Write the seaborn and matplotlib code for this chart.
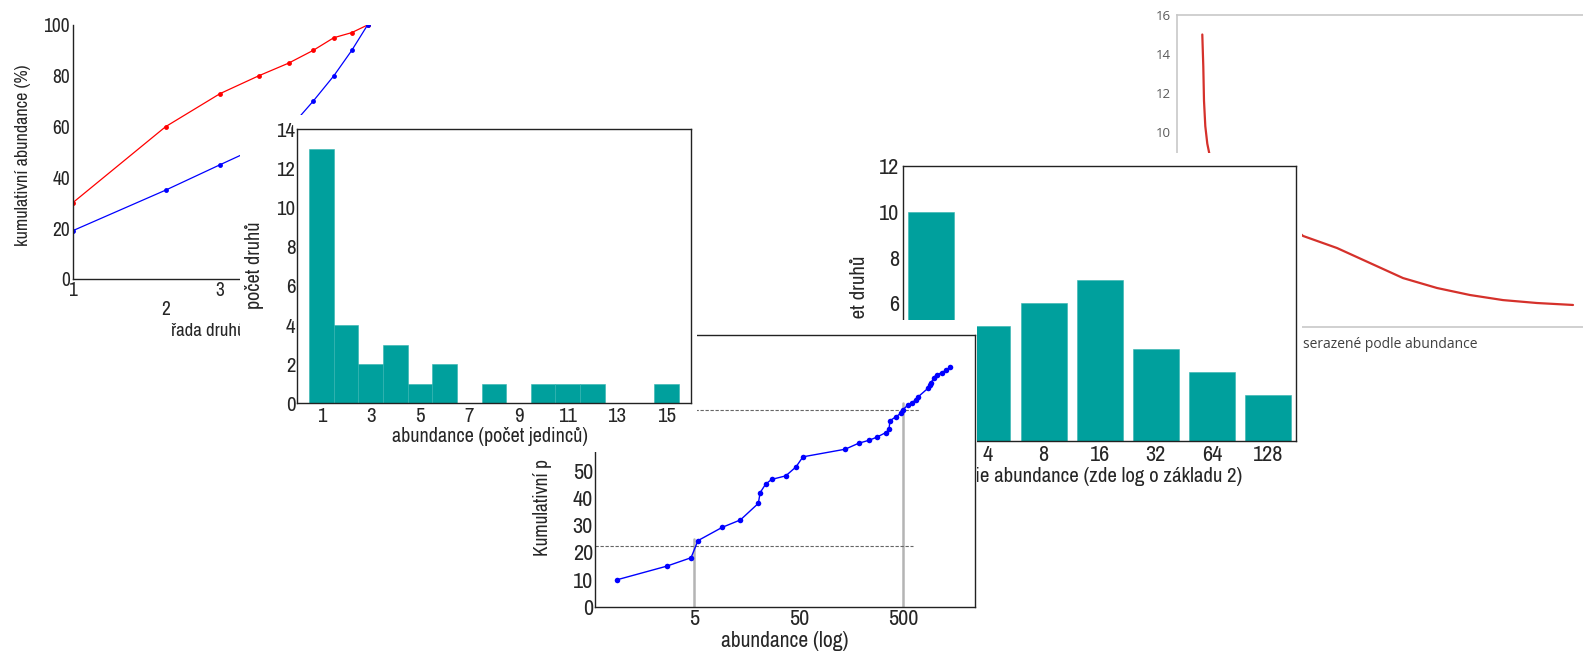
import numpy as np
import pandas as pd
import matplotlib
matplotlib.use('Agg')
import matplotlib.pyplot as plt
import seaborn as sns
from matplotlib.ticker import FixedLocator, NullFormatter, NullLocator
from matplotlib.transforms import blended_transform_factory

# panel 1: cumulative abundance vs species rank (log x)
rank_species = [1, 2, 3, 4, 5, 6, 7, 8, 9]
cum_red = [30, 60, 73, 80, 85, 90, 95, 97, 100]
cum_blue = [19, 35, 45, 52, 59, 70, 80, 90, 100]

# panel 2: histogram of abundances
abund_classes = list(range(1, 16))
hist_counts = [13, 4, 2, 3, 1, 2, 0, 1, 0, 1, 1, 1, 0, 0, 1]

# panel 3: cumulative curve vs abundance (log x)
log_abund = [0.91, 2.72, 4.65, 5.42, 9.27, 13.8, 20.5, 21.3, 24.1, 27.5, 37.5, 47.0,
             54.8, 139, 187, 236, 278, 340, 365, 373, 429, 472, 493, 558, 601, 657,
             696, 861, 901, 927, 977, 1044, 1165, 1281, 1409]
log_cum = [9.9, 14.9, 18.0, 24.3, 29.2, 31.9, 38.0, 41.9, 45.1, 46.8, 48.1, 51.4,
           55.1, 57.9, 60.1, 61.2, 62.3, 64.0, 65.2, 68.4, 69.9, 71.1, 72.3, 74.3,
           75.0, 76.0, 77.2, 80.3, 81.5, 82.4, 84.2, 85.3, 86.0, 87.0, 88.1]
log_ticks = [5, 50, 500]
quart_x = [5, 500]
quart_top = [25, 75]
quart_y = [22.3, 72.3]
quart_right = [620, 710]

# panel 4: octave classes (log2)
octave_labels = ['2', '4', '8', '16', '32', '64', '128']
octave_counts = [10, 5, 6, 7, 4, 3, 2]

# panel 5: rank-abundance curve (excel style)
rank_pos = [2.53, 2.63, 2.70, 2.83, 3.03, 3.23, 12.6, 16.0, 19.3, 22.6, 26.0, 29.3, 32.6, 36.0, 39.6]
rank_abund = [15.0, 13.35, 11.6, 10.3, 9.4, 8.9, 4.67, 4.05, 3.28, 2.51, 2.0, 1.64, 1.38, 1.23, 1.13]

TEAL = '#00a09d'
EXCEL_FONT = ['Open Sans', 'DejaVu Sans']
W, H = 1583, 655

sns.set_style('white')
plt.rcParams['font.family'] = ['Archivo Narrow', 'Liberation Sans', 'DejaVu Sans']
plt.rcParams['axes.linewidth'] = 1.0

fig = plt.figure(figsize=(W / 100, H / 100), dpi=100)
fig.patch.set_facecolor('white')


def rect(l, t, r, b):
    return [l / W, 1 - b / H, (r - l) / W, (b - t) / H]


def fx(x):
    return x / W


def fy(y):
    return 1 - y / H


def backdrop(l, t, r, b):
    # white "screenshot" area that hides whatever lies below it
    a = fig.add_axes(rect(l, t, r, b))
    a.set_xticks([])
    a.set_yticks([])
    for s in a.spines.values():
        s.set_visible(False)
    a.set_facecolor('white')
    return a


def box(ax):
    for s in ax.spines.values():
        s.set_visible(True)
        s.set_color('#222222')
        s.set_linewidth(1.0)


# ---- panel 1
ax1 = fig.add_axes(rect(72.7, 25, 381.7, 279))
sns.lineplot(x=rank_species, y=cum_red, color='red', lw=0.9, marker='o',
             markersize=3.5, markeredgewidth=0, ax=ax1)
sns.lineplot(x=rank_species, y=cum_blue, color='blue', lw=0.9, marker='o',
             markersize=3.5, markeredgewidth=0, ax=ax1)
ax1.set_xscale('log')
ax1.set_xlim(1, 10)
ax1.set_ylim(0, 100)
ax1.set_xticks([1, 3])
ax1.set_xticklabels(['1', '3'])
ax1.xaxis.set_minor_locator(FixedLocator([1.25, 1.5, 1.75, 2, 2.25, 2.5, 2.75, 3.25, 3.5]))
ax1.xaxis.set_minor_formatter(NullFormatter())
ax1.set_yticks(range(0, 101, 20))
ax1.tick_params(axis='x', which='both', direction='in', length=3.5, width=0.8, pad=1.5, labelsize=14)
ax1.tick_params(axis='y', length=0, pad=2, labelsize=14)
for side in ['top', 'right']:
    ax1.spines[side].set_visible(False)
for side in ['left', 'bottom']:
    ax1.spines[side].set_color('#222222')
ax1.set_xlabel('')
ax1.set_ylabel('')
ax1.text(2, fy(300), '2', fontsize=14, ha='center', va='top',
         transform=blended_transform_factory(ax1.transData, fig.transFigure))
ax1.text(fx(171), fy(331), 'řada druhů', fontsize=13.5, ha='left', va='center', transform=fig.transFigure)
ax1.text(fx(23), fy(246), 'kumulativní abundance (%)', fontsize=13, rotation=90,
         ha='center', va='bottom', transform=fig.transFigure)

# ---- panel 5
backdrop(1120, 0, 1583, 360)
ax5 = fig.add_axes(rect(1177, 15, 1600, 327))
sns.lineplot(x=rank_pos, y=rank_abund, color='#d5312b', lw=1.6, ax=ax5)
ax5.set_xlim(0, 42.3)
ax5.set_ylim(0, 16)
ax5.set_xticks([])
ax5.set_yticks(range(0, 17, 2))
ax5.tick_params(axis='y', length=0, pad=4.5, labelsize=9.5, labelcolor='#595959')
for lab in ax5.get_yticklabels():
    lab.set_family(EXCEL_FONT)
ax5.spines['right'].set_visible(False)
for side in ['left', 'top', 'bottom']:
    ax5.spines[side].set_color('#c8c8c8')
    ax5.spines[side].set_linewidth(1.2)
ax5.set_xlabel('')
ax5.set_ylabel('')
ax5.text(fx(1303), fy(344), 'serazené podle abundance', fontsize=10, color='#404040',
         family=EXCEL_FONT, ha='left', va='center', transform=fig.transFigure)

# ---- panel 4
backdrop(840, 153, 1302, 490)
ax4 = fig.add_axes(rect(903.3, 166, 1296, 440.7))
sns.barplot(x=octave_labels, y=octave_counts, order=octave_labels, color=TEAL,
            saturation=1, width=0.82, edgecolor='#33b3b0', linewidth=0.4, ax=ax4)
ax4.set_ylim(0, 12)
ax4.set_yticks(range(0, 13, 2))
ax4.tick_params(length=0, labelsize=16, pad=3)
box(ax4)
ax4.set_xlabel('')
ax4.set_ylabel('')
ax4.text(fx(1242), fy(477), 'kategorie abundance (zde log o základu 2)', fontsize=15,
         ha='right', va='center', transform=fig.transFigure)
ax4.text(fx(860), fy(256), 'počet druhů', fontsize=15, rotation=90,
         ha='center', va='top', transform=fig.transFigure)

# ---- panel 3
backdrop(520, 320, 977, 655)
ax3 = fig.add_axes(rect(595, 334.7, 975, 606.7))
for xv, top in zip(quart_x, quart_top):
    ax3.plot([xv, xv], [0, top], color='#b4b4b4', lw=1.8, zorder=1)
for yv, right in zip(quart_y, quart_right):
    ax3.plot([0.56, right], [yv, yv], color='#666666', lw=0.8, ls=(0, (3, 1.5)), zorder=1)
sns.lineplot(x=log_abund, y=log_cum, color='blue', lw=1.0, marker='o',
             markersize=4, markeredgewidth=0, ax=ax3, zorder=3)
ax3.set_xscale('log')
ax3.set_xlim(0.56, 2430)
ax3.set_ylim(0, 100)
ax3.set_xticks(log_ticks)
ax3.set_xticklabels([str(t) for t in log_ticks])
ax3.xaxis.set_minor_locator(NullLocator())
ax3.set_yticks(range(0, 51, 10))
ax3.tick_params(length=0, labelsize=16, pad=1.5)
box(ax3)
ax3.set_xlabel('')
ax3.set_ylabel('')
ax3.text(fx(785), fy(641), 'abundance (log)', fontsize=15.5, ha='center', va='center',
         transform=fig.transFigure)
ax3.text(fx(543), fy(556), 'Kumulativní p', fontsize=14, rotation=90,
         ha='center', va='bottom', transform=fig.transFigure)

# ---- panel 2
backdrop(240, 115, 697, 452)
ax2 = fig.add_axes(rect(296.7, 129.3, 691, 403.3))
sns.barplot(x=abund_classes, y=hist_counts, native_scale=True, width=1, color=TEAL,
            saturation=1, edgecolor='#33b3b0', linewidth=0.4, errorbar=None, ax=ax2)
ax2.set_xlim(0, 16)
ax2.set_ylim(0, 14)
ax2.set_xticks(range(1, 16, 2))
ax2.set_yticks(range(0, 15, 2))
ax2.tick_params(length=0, labelsize=15, pad=3)
ax2.tick_params(axis='y', pad=1)
box(ax2)
ax2.set_xlabel('')
ax2.set_ylabel('')
ax2.text(fx(490), fy(437), 'abundance (počet jedinců)', fontsize=14.5, ha='center', va='center',
         transform=fig.transFigure)
ax2.text(fx(255), fy(265), 'počet druhů', fontsize=14.5, rotation=90, ha='center', va='center',
         transform=fig.transFigure)

fig.savefig('out.png', dpi=100, facecolor='white')
